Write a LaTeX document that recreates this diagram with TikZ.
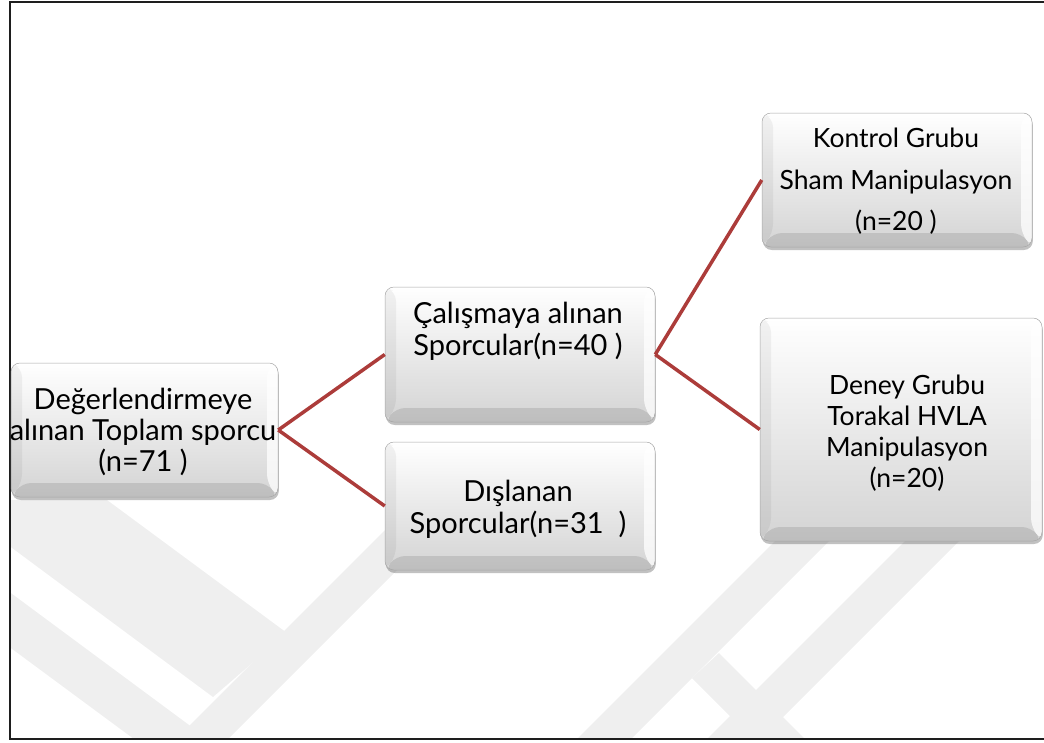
\documentclass[tikz,border=0pt]{standalone}
\usepackage{fontspec}
\setmainfont{Lato}
\usetikzlibrary{shadows,calc}
\definecolor{conn}{RGB}{172,60,58}
\definecolor{wm}{RGB}{239,239,239}
\definecolor{frame}{RGB}{30,30,30}
\begin{document}
\begin{tikzpicture}[x=1pt,y=-1pt,
  box/.style={rectangle, rounded corners=9pt, draw=black!35, line width=0.5pt,
    top color=white, bottom color=black!17, inner sep=0pt,
    drop shadow={shadow xshift=0.8pt, shadow yshift=-3pt, opacity=0.35, fill=black!70},
    path picture={
      \path (path picture bounding box.south west) coordinate (pSW)
            (path picture bounding box.south east) coordinate (pSE)
            (path picture bounding box.north west) coordinate (pNW)
            (path picture bounding box.north east) coordinate (pNE);
      \fill[black, opacity=0.10] (pSW) -- ($(pSW)+(11pt,14pt)$) -- ($(pSE)+(-11pt,14pt)$) -- (pSE) -- cycle;
      \fill[black, opacity=0.05] (pSW) -- ($(pSW)+(11pt,14pt)$) -- ($(pNW)+(11pt,-5pt)$) -- (pNW) -- cycle;
      \fill[white, opacity=0.75] (pSE) -- ($(pSE)+(-11pt,14pt)$) -- ($(pNE)+(-11pt,-5pt)$) -- (pNE) -- cycle;
    }},
  txtbig/.style={align=center, inner sep=0pt, font=\fontsize{29}{31}\selectfont},
  txtmid/.style={align=center, inner sep=0pt, font=\fontsize{29}{32}\selectfont},
  txtsmall/.style={align=center, inner sep=0pt, font=\fontsize{26.5}{31}\selectfont},
  link/.style={draw=conn, line width=3.5pt}]
\useasboundingbox (0,0) rectangle (1044,742);
% watermark
\begin{scope}
  \clip (10,500) rectangle (1044,738);
  \fill[wm] (0,500) -- (107,500) -- (287,633) -- (213,697) -- (0,539) -- cycle;
  \fill[wm] (415,500) -- (467,500) -- (225,742) -- (173,742) -- cycle;
  \fill[wm] (0,585) -- (0,640) -- (138,742) -- (212,742) -- cycle;
  \fill[wm] (946,500) -- (1000,500) -- (758,742) -- (704,742) -- cycle;
  \fill[wm] (816,500) -- (870,500) -- (628,742) -- (574,742) -- cycle;
  \fill[wm] (719,653) -- (808,742) -- (756,742) -- (692,678) -- cycle;
\end{scope}
\draw[line width=2pt, frame] (9.5,1.5) rectangle (1070,739);
% boxes
\node[box, minimum width=267pt, minimum height=134pt] (tot) at (144.5,430) {};
\node[box, minimum width=270pt, minimum height=135pt] (cal) at (520,354.5) {};
\node[box, minimum width=270pt, minimum height=128pt] (dis) at (520,506) {};
\node[box, minimum width=270pt, minimum height=134pt] (kon) at (897,180) {};
\node[box, minimum width=282pt, minimum height=223pt] (den) at (901,429.5) {};
% texts
\node[txtbig] (totT) at (143,432) {Değerlendirmeye\\alınan Toplam sporcu\\(n=71 )};
\node[txtmid] (calT) at (518,331) {Çalışmaya alınan\\Sporcular(n=40 )};
\node[txtmid] (disT) at (518,509) {Dışlanan\\Sporcular(n=31\ \ )};
\node[txtsmall, font=\fontsize{26.5}{41.5}\selectfont] (konT) at (896,181.5) {Kontrol Grubu\\Sham Manipulasyon\\(n=20 )};
\node[txtsmall] (denT) at (907,433) {Deney Grubu\\Torakal HVLA\\Manipulasyon\\(n=20)};
% connectors
\draw[link] (tot.east) -- (cal.west);
\draw[link] (tot.east) -- (dis.west);
\draw[link] (cal.east) -- (kon.west);
\draw[link] (cal.east) -- (den.west);
\end{tikzpicture}
\end{document}
